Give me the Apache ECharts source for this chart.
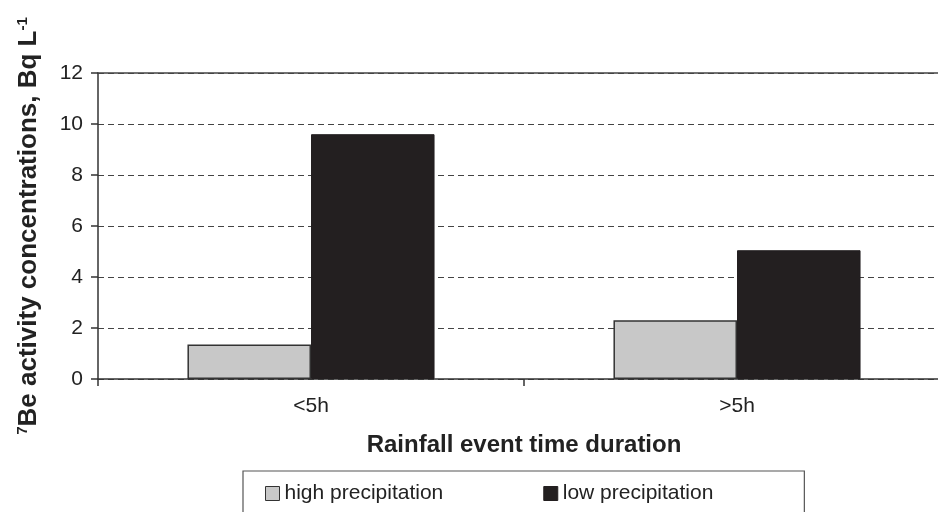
<!DOCTYPE html>
<html>
<head>
<meta charset="utf-8">
<script src="https://cdn.jsdelivr.net/npm/echarts@6/dist/echarts.min.js"></script>
<style>
  html, body { margin: 0; padding: 0; background: #fff; }
  #chart { width: 938px; height: 512px; }
</style>
</head>
<body>
<div id="chart"></div>
<script>
const categories = ['<5h', '>5h'];
const highPrecip = [1.35, 2.3];
const lowPrecip = [9.6, 5.05];
const yTicks = [0, 2, 4, 6, 8, 10, 12];

const FONT = '"Liberation Sans", Arial, sans-serif';
const chart = echarts.init(document.getElementById('chart'));

chart.setOption({
  animation: false,
  textStyle: { fontFamily: FONT },
  // plot runs off the right edge of the picture, as in the scan
  grid: { left: 98, width: 852, top: 73, bottom: 133, outerBoundsMode: 'none' },
  legend: {
    left: 243, top: 471,
    padding: [12, 91, 14, 22],
    itemGap: 100,
    itemWidth: 14, itemHeight: 14,
    borderColor: '#555', borderWidth: 1.2,
    textStyle: { fontSize: 21, color: '#222', fontFamily: FONT },
    data: [
      { name: 'high precipitation', icon: 'rect', itemStyle: { color: '#c8c8c8', borderColor: '#333', borderWidth: 1 } },
      { name: 'low precipitation', icon: 'rect', itemStyle: { color: '#231f20', borderColor: '#231f20', borderWidth: 1 } }
    ]
  },
  xAxis: [{
    type: 'category',
    data: categories,
    name: 'Rainfall event time duration',
    nameLocation: 'middle',
    nameGap: 54,
    nameTextStyle: { fontSize: 24, fontWeight: 'bold', color: '#222' },
    axisLine: { lineStyle: { color: '#333', width: 1.5 } },
    axisTick: { show: true, length: 7, lineStyle: { color: '#333', width: 1.5 } },
    axisLabel: { fontSize: 21, color: '#222', margin: 17 }
  }, {
    type: 'category',
    data: categories,
    position: 'top',
    axisLine: { show: true, lineStyle: { color: '#444', width: 1.5 } },
    axisTick: { show: false },
    axisLabel: { show: false }
  }],
  yAxis: {
    type: 'value',
    min: yTicks[0], max: yTicks[yTicks.length - 1], interval: 2,
    name: '{sup|7}{t|Be activity concentrations, Bq L}{sup|-1}',
    nameLocation: 'middle',
    nameRotate: 90,
    nameGap: 56,
    nameTextStyle: {
      rich: {
        t: { fontSize: 26, fontWeight: 'bold', color: '#222', fontFamily: FONT },
        sup: { fontSize: 15, fontWeight: 'bold', color: '#222', fontFamily: FONT, verticalAlign: 'top', padding: [0, 0, 12, 0] }
      }
    },
    axisLine: { show: true, lineStyle: { color: '#333', width: 1.5 } },
    axisTick: { show: true, length: 7, lineStyle: { color: '#333', width: 1.5 } },
    axisLabel: { fontSize: 21, color: '#222', margin: 15 },
    splitLine: { show: true, lineStyle: { color: '#444', type: [6, 4], width: 1.2 } }
  },
  series: [{
    name: 'high precipitation',
    type: 'bar',
    data: highPrecip,
    barGap: '0%',
    barCategoryGap: '42%',
    itemStyle: { color: '#c8c8c8', borderColor: '#333', borderWidth: 1.5 }
  }, {
    name: 'low precipitation',
    type: 'bar',
    data: lowPrecip,
    itemStyle: { color: '#231f20', borderColor: '#231f20', borderWidth: 1 }
  }]
});
</script>
</body>
</html>
